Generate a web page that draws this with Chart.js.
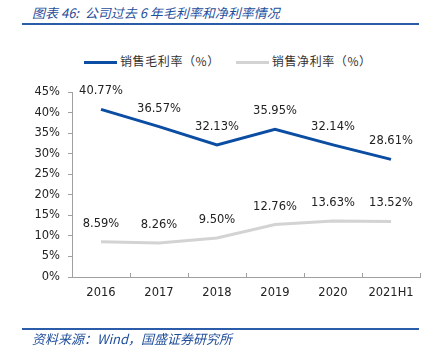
<!DOCTYPE html>
<html>
<head>
<meta charset="utf-8">
<script src="https://cdn.jsdelivr.net/npm/chart.js@4"></script>
<style>
  body { margin: 0; width: 438px; height: 359px; background: #fff; position: relative; overflow: hidden; }
  #chart { position: absolute; left: 0; top: 0; }
  .title { position: absolute; left: 32px; top: 3px; font: italic 13px "Noto Sans CJK SC"; color: #1f4e9c; white-space: pre; }
  .rule { position: absolute; left: 22px; width: 397px; height: 2px; background: #2a5caa; }
  .source { position: absolute; left: 32px; top: 328px; font: italic 13px "Noto Sans CJK SC"; color: #1f4e9c; white-space: nowrap; }
  .legend { position: absolute; top: 52px; left: 84px; font: 12px "Noto Sans CJK SC"; color: #333; white-space: nowrap; letter-spacing: 0.6px; }
  .legend span.box { display: inline-block; width: 33px; height: 3px; vertical-align: middle; margin-right: 3px; }
  .legend span.item { margin-right: 16px; }
</style>
</head>
<body>
<div class="title">图表 46:  公司过去 6 年毛利率和净利率情况</div>
<div class="rule" style="top:23px"></div>
<div class="legend">
  <span class="item"><span class="box" style="background:#0b4da2"></span>销售毛利率（%）</span><span class="item"><span class="box" style="background:#d3d3d3"></span>销售净利率（%）</span>
</div>
<canvas id="chart" width="438" height="359"></canvas>
<div class="rule" style="top:328px"></div>
<div class="source" style="top:329px">资料来源：Wind，国盛证券研究所</div>
<script>
// data
const years = ['2016', '2017', '2018', '2019', '2020', '2021H1'];
const grossMargin = [40.77, 36.57, 32.13, 35.95, 32.14, 28.61];
const netMargin = [8.59, 8.26, 9.50, 12.76, 13.63, 13.52];

// labels above each point
const pointLabels = {
  id: 'pointLabels',
  afterDatasetsDraw(chart) {
    const ctx = chart.ctx;
    ctx.save();
    ctx.font = '11.5px "DejaVu Sans"';
    ctx.fillStyle = '#222';
    ctx.textAlign = 'center';
    ctx.textBaseline = 'middle';
    chart.data.datasets.forEach((ds, i) => {
      chart.getDatasetMeta(i).data.forEach((pt, j) => {
        ctx.fillText(ds.data[j].toFixed(2) + '%', pt.x, pt.y - 18);
      });
    });
    ctx.restore();
  }
};

new Chart(document.getElementById('chart'), {
  type: 'line',
  data: {
    labels: years,
    datasets: [
      { label: '销售毛利率（%）', data: grossMargin, borderColor: '#0b4da2', borderWidth: 3, pointRadius: 0, tension: 0 },
      { label: '销售净利率（%）', data: netMargin, borderColor: '#d3d3d3', borderWidth: 3, pointRadius: 0, tension: 0 }
    ]
  },
  options: {
    responsive: false,
    animation: false,
    layout: { padding: { top: 92, left: 0, right: 18, bottom: 0 } },
    scales: {
      x: {
        offset: true,
        afterFit: (s) => { s.height = 82; },
        grid: { offset: true, drawOnChartArea: false, tickLength: -4, color: '#a0a0a0' },
        border: { color: '#a0a0a0' },
        ticks: { padding: 13, color: '#222', font: { family: 'DejaVu Sans', size: 11.5 } }
      },
      y: {
        min: 0,
        max: 45,
        afterFit: (s) => { s.width = 72; },
        grid: { drawOnChartArea: false, tickLength: 4, color: '#a0a0a0' },
        border: { color: '#a0a0a0' },
        ticks: { stepSize: 5, padding: 8, color: '#222', font: { family: 'DejaVu Sans', size: 11.5 },
          callback: (v) => v + '%' }
      }
    },
    plugins: {
      legend: { display: false },
      tooltip: { enabled: false }
    }
  },
  plugins: [pointLabels]
});
</script>
</body>
</html>
